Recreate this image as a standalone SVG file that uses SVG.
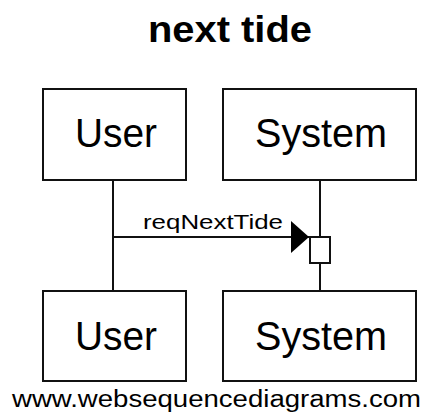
<svg xmlns="http://www.w3.org/2000/svg" width="431" height="418" viewBox="0 0 431 418">
<style>
.box{fill:#fff;stroke:#111;stroke-width:2}
.line{stroke:#111;stroke-width:2;fill:none}
.t{font-family:"Liberation Sans",Arial,sans-serif;fill:#000}
.p{font-size:40px;text-anchor:middle}
</style>
<defs>
<marker id="ah" markerUnits="userSpaceOnUse" markerWidth="20" markerHeight="34" refX="18" refY="16" orient="auto">
<path d="M0,0 L18,16 L0,32 Z" fill="#000"/>
</marker>
</defs>
<rect width="431" height="418" fill="#fff"/>
<text class="t" x="230" y="42" font-size="36" font-weight="bold" text-anchor="middle" textLength="164" lengthAdjust="spacingAndGlyphs">next tide</text>
<g id="connectors">
<line class="line" x1="113" y1="180" x2="113" y2="291"/>
<line class="line" x1="320" y1="180" x2="320" y2="291"/>
<line class="line" x1="113" y1="237" x2="309" y2="237" marker-end="url(#ah)"/>
<text class="t" x="143" y="229" font-size="21" textLength="140" lengthAdjust="spacingAndGlyphs">reqNextTide</text>
</g>
<g id="activation">
<rect class="box" x="310" y="237" width="20" height="26"/>
</g>
<g id="user-top">
<rect class="box" x="43" y="89" width="143" height="91"/>
<text class="t p" x="116" y="147" textLength="82" lengthAdjust="spacingAndGlyphs">User</text>
</g>
<g id="system-top">
<rect class="box" x="223" y="89" width="193" height="91"/>
<text class="t p" x="321" y="147" textLength="132" lengthAdjust="spacingAndGlyphs">System</text>
</g>
<g id="user-bottom">
<rect class="box" x="43" y="291" width="143" height="90"/>
<text class="t p" x="116" y="350" textLength="82" lengthAdjust="spacingAndGlyphs">User</text>
</g>
<g id="system-bottom">
<rect class="box" x="223" y="291" width="193" height="90"/>
<text class="t p" x="321" y="350" textLength="132" lengthAdjust="spacingAndGlyphs">System</text>
</g>
<text class="t" x="12" y="407" font-size="23" textLength="409" lengthAdjust="spacingAndGlyphs">www.websequencediagrams.com</text>
</svg>
